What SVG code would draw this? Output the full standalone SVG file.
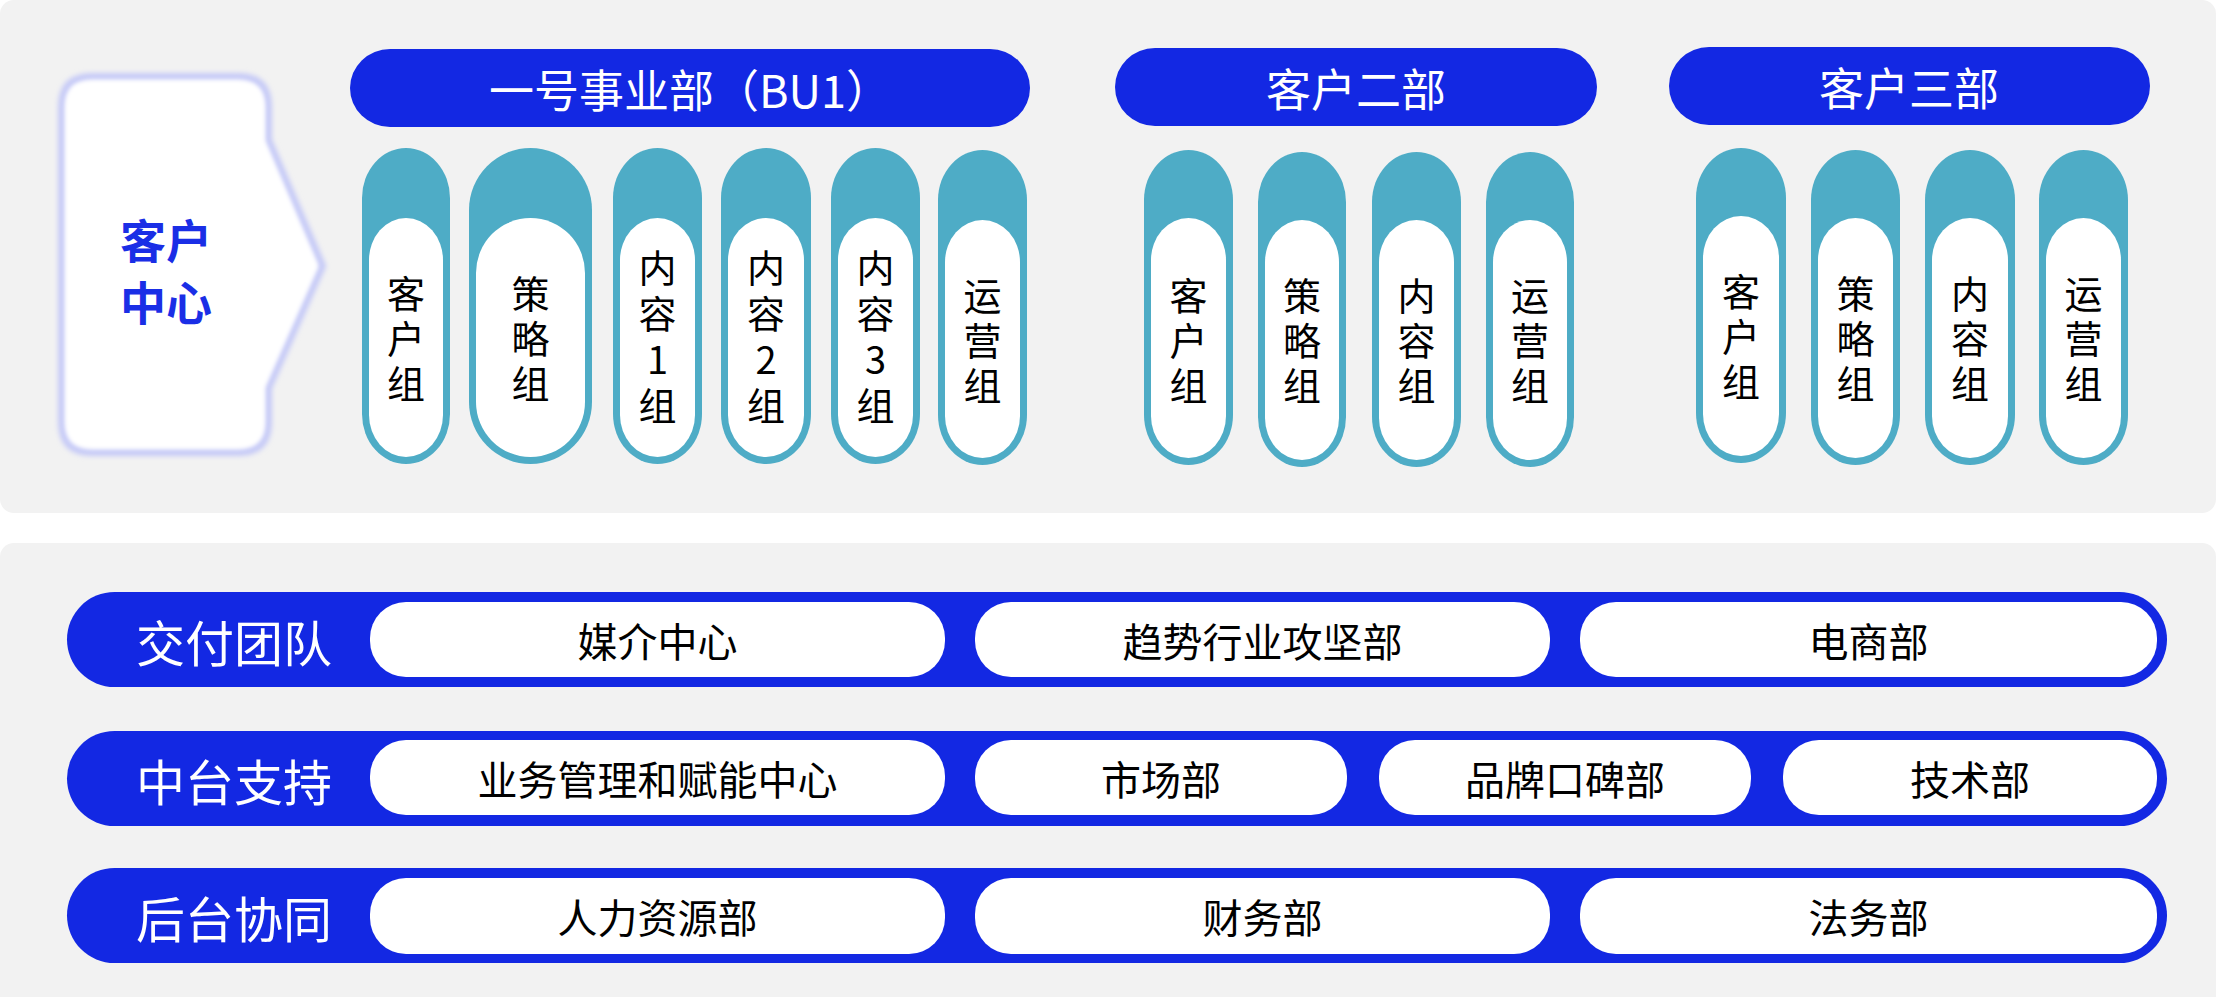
<svg xmlns="http://www.w3.org/2000/svg" width="2218" height="997" viewBox="0 0 2218 997">
<defs>
<style>
.panel{fill:#f2f2f2}
.hdr{fill:#1328e3}
.hdrt{font-family:"Noto Sans CJK SC","Noto Sans",sans-serif;font-size:45px;fill:#ffffff;text-anchor:middle;dominant-baseline:central}
.col{fill:#4eacc6}
.colin{fill:#ffffff}
.colt{font-family:"Noto Sans CJK SC","Noto Sans",sans-serif;font-size:38px;fill:#000000;text-anchor:middle;writing-mode:vertical-rl;text-orientation:upright;letter-spacing:7px}
.colt4{letter-spacing:8px}
.row{fill:#1328e3}
.rowt{font-family:"Noto Sans CJK SC","Noto Sans",sans-serif;font-size:49px;fill:#ffffff;text-anchor:middle;dominant-baseline:central}
.pill{fill:#ffffff}
.pillt{font-family:"Noto Sans CJK SC","Noto Sans",sans-serif;font-size:40px;fill:#000000;text-anchor:middle;dominant-baseline:central}
.cct{font-family:"Noto Sans CJK SC","Noto Sans",sans-serif;font-size:46px;font-weight:bold;fill:#1a2ee6;text-anchor:middle;writing-mode:vertical-rl;text-orientation:upright}
</style>
<filter id="soft" x="-10%" y="-10%" width="120%" height="120%"><feGaussianBlur stdDeviation="2.5"/></filter>
</defs>

<rect class="panel" x="0" y="0" width="2216" height="513" rx="14"/>
<rect class="panel" x="0" y="543" width="2216" height="470" rx="14"/>

<g id="kehu-zhongxin">
<path d="M92,77 H238 Q268,77 268,107 V140 L322,266 L268,388 V422 Q268,452 238,452 H92 Q62,452 62,422 V107 Q62,77 92,77 Z" fill="#ffffff" stroke="#c6caf7" stroke-width="8" filter="url(#soft)"/>
<path d="M92,81 H238 Q264,81 264,107 V141 L317,266 L264,387 V422 Q264,448 238,448 H92 Q66,448 66,422 V107 Q66,81 92,81 Z" fill="#ffffff" filter="url(#soft)"/>
<text font-family="Noto Sans CJK SC, sans-serif" font-size="46" font-weight="bold" fill="#1a2ee6" text-anchor="middle" dominant-baseline="central" x="166" y="238">客户</text>
<text font-family="Noto Sans CJK SC, sans-serif" font-size="46" font-weight="bold" fill="#1a2ee6" text-anchor="middle" dominant-baseline="central" x="166" y="300">中心</text>
</g>

<g id="bu1-header">
<rect class="hdr" x="350" y="49" width="680" height="78" rx="40"/>
<text class="hdrt" x="690" y="88">一号事业部（BU1）</text>
</g>
<g id="kehu2-header">
<rect class="hdr" x="1115" y="48" width="482" height="78" rx="40"/>
<text class="hdrt" x="1356" y="87">客户二部</text>
</g>
<g id="kehu3-header">
<rect class="hdr" x="1669" y="47" width="481" height="78" rx="40"/>
<text class="hdrt" x="1909" y="86">客户三部</text>
</g>

<g id="bu1-kehu">
<rect class="col" x="362" y="148" width="88" height="316" rx="44" ry="50"/>
<rect class="colin" x="369" y="218" width="74" height="239" rx="37" ry="42"/>
<text class="colt" x="406" y="342">客户组</text>
</g>
<g id="bu1-celue">
<rect class="col" x="469" y="148" width="123" height="316" rx="61.5" ry="62"/>
<rect class="colin" x="476" y="218" width="109" height="239" rx="54.5" ry="55"/>
<text class="colt" x="530.5" y="342">策略组</text>
</g>
<g id="bu1-neirong1">
<rect class="col" x="613" y="148" width="89" height="316" rx="44.5" ry="50"/>
<rect class="colin" x="620" y="218" width="75" height="239" rx="37.5" ry="42"/>
<text class="colt colt4" x="657.5" y="341">内容1组</text>
</g>
<g id="bu1-neirong2">
<rect class="col" x="721" y="148" width="90" height="316" rx="45" ry="50"/>
<rect class="colin" x="728" y="218" width="76" height="239" rx="38" ry="42"/>
<text class="colt colt4" x="766" y="341">内容2组</text>
</g>
<g id="bu1-neirong3">
<rect class="col" x="831" y="148" width="89" height="316" rx="44.5" ry="50"/>
<rect class="colin" x="838" y="218" width="75" height="239" rx="37.5" ry="42"/>
<text class="colt colt4" x="875.5" y="341">内容3组</text>
</g>
<g id="bu1-yunying">
<rect class="col" x="938" y="150" width="89" height="315" rx="44.5" ry="50"/>
<rect class="colin" x="945" y="220" width="75" height="238" rx="37.5" ry="42"/>
<text class="colt" x="982.5" y="344">运营组</text>
</g>

<g id="k2-kehu">
<rect class="col" x="1144" y="150" width="89" height="315" rx="44.5" ry="50"/>
<rect class="colin" x="1151" y="218" width="75" height="240" rx="37.5" ry="42"/>
<text class="colt" x="1188.5" y="344">客户组</text>
</g>
<g id="k2-celue">
<rect class="col" x="1258" y="152" width="88" height="315" rx="44" ry="50"/>
<rect class="colin" x="1265" y="220" width="74" height="240" rx="37" ry="42"/>
<text class="colt" x="1302" y="344">策略组</text>
</g>
<g id="k2-neirong">
<rect class="col" x="1372" y="152" width="89" height="315" rx="44.5" ry="50"/>
<rect class="colin" x="1379" y="220" width="75" height="240" rx="37.5" ry="42"/>
<text class="colt" x="1416.5" y="344">内容组</text>
</g>
<g id="k2-yunying">
<rect class="col" x="1486" y="152" width="88" height="315" rx="44" ry="50"/>
<rect class="colin" x="1493" y="220" width="74" height="240" rx="37" ry="42"/>
<text class="colt" x="1530" y="344">运营组</text>
</g>

<g id="k3-kehu">
<rect class="col" x="1696" y="148" width="90" height="315" rx="45" ry="50"/>
<rect class="colin" x="1703" y="216" width="76" height="240" rx="38" ry="42"/>
<text class="colt" x="1741" y="340">客户组</text>
</g>
<g id="k3-celue">
<rect class="col" x="1811" y="150" width="89" height="315" rx="44.5" ry="50"/>
<rect class="colin" x="1818" y="218" width="75" height="240" rx="37.5" ry="42"/>
<text class="colt" x="1855.5" y="342">策略组</text>
</g>
<g id="k3-neirong">
<rect class="col" x="1925" y="150" width="90" height="315" rx="45" ry="50"/>
<rect class="colin" x="1932" y="218" width="76" height="240" rx="38" ry="42"/>
<text class="colt" x="1970" y="342">内容组</text>
</g>
<g id="k3-yunying">
<rect class="col" x="2039" y="150" width="89" height="315" rx="44.5" ry="50"/>
<rect class="colin" x="2046" y="218" width="75" height="240" rx="37.5" ry="42"/>
<text class="colt" x="2083.5" y="342">运营组</text>
</g>

<g id="row-jiaofu">
<rect class="row" x="67" y="592" width="2100" height="95" rx="47.5"/>
<text class="rowt" x="234" y="640">交付团队</text>
</g>
<g id="jf-meijie"><rect class="pill" x="370" y="602" width="575" height="75" rx="36"/><text class="pillt" x="657.5" y="640">媒介中心</text></g>
<g id="jf-qushi"><rect class="pill" x="975" y="602" width="575" height="75" rx="36"/><text class="pillt" x="1262.5" y="640">趋势行业攻坚部</text></g>
<g id="jf-dianshang"><rect class="pill" x="1580" y="602" width="577" height="75" rx="36"/><text class="pillt" x="1868.5" y="640">电商部</text></g>

<g id="row-zhongtai">
<rect class="row" x="67" y="731" width="2100" height="95" rx="47.5"/>
<text class="rowt" x="234" y="779">中台支持</text>
</g>
<g id="zt-yewu"><rect class="pill" x="370" y="740" width="575" height="75" rx="36"/><text class="pillt" x="657.5" y="778">业务管理和赋能中心</text></g>
<g id="zt-shichang"><rect class="pill" x="975" y="740" width="372" height="75" rx="36"/><text class="pillt" x="1161" y="778">市场部</text></g>
<g id="zt-pinpai"><rect class="pill" x="1379" y="740" width="372" height="75" rx="36"/><text class="pillt" x="1565" y="778">品牌口碑部</text></g>
<g id="zt-jishu"><rect class="pill" x="1783" y="740" width="374" height="75" rx="36"/><text class="pillt" x="1970" y="778">技术部</text></g>

<g id="row-houtai">
<rect class="row" x="67" y="868" width="2100" height="95" rx="47.5"/>
<text class="rowt" x="234" y="916">后台协同</text>
</g>
<g id="ht-renli"><rect class="pill" x="370" y="878" width="575" height="76" rx="36"/><text class="pillt" x="657.5" y="916">人力资源部</text></g>
<g id="ht-caiwu"><rect class="pill" x="975" y="878" width="575" height="76" rx="36"/><text class="pillt" x="1262.5" y="916">财务部</text></g>
<g id="ht-fawu"><rect class="pill" x="1580" y="878" width="577" height="76" rx="36"/><text class="pillt" x="1868.5" y="916">法务部</text></g>

<g id="connectors"></g>
</svg>
